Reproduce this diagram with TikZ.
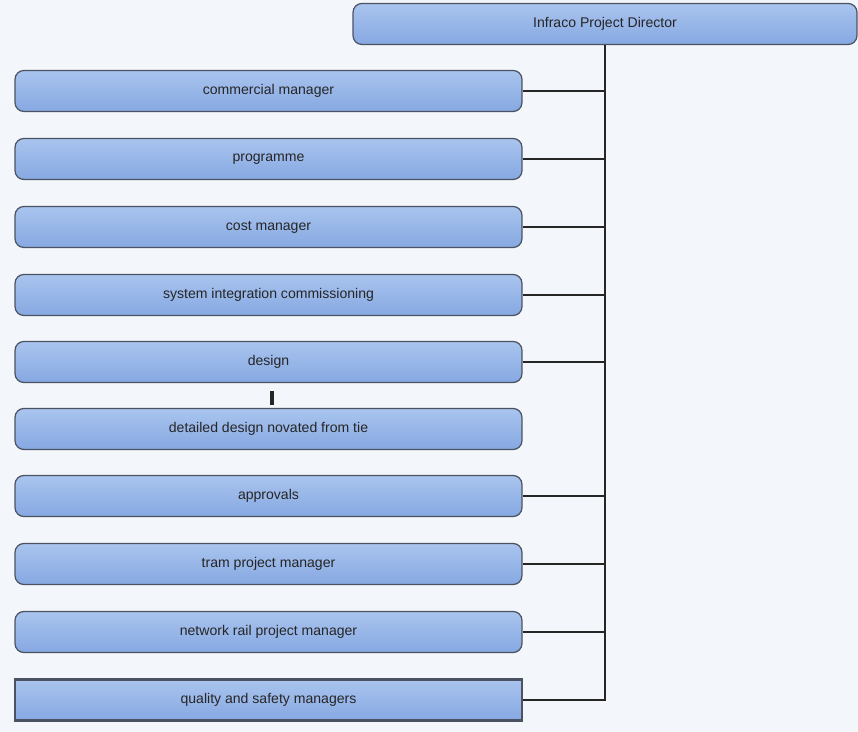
\documentclass[tikz,border=0pt]{standalone}
\usepackage{fontspec}
\setmainfont{Liberation Sans}
\usetikzlibrary{positioning}

\definecolor{boxtop}{HTML}{A9C4EE}
\definecolor{boxbot}{HTML}{86A8E2}
\definecolor{boxline}{HTML}{4B5262}
\definecolor{paper}{HTML}{F3F6FA}

\tikzset{
  unit/.style={rectangle, rounded corners=5pt, draw=boxline, line width=0.7pt,
    top color=boxtop, bottom color=boxbot, minimum width=10.14cm,
    minimum height=0.82cm, font=\fontsize{8}{9.5}\selectfont, text=black!85},
  head/.style={unit, minimum width=10.08cm},
  link/.style={line width=1.5pt, draw=black!85}
}

\begin{document}
\begin{tikzpicture}[x=0.02cm, y=-0.02cm]
	\fill[paper] (0,0) rectangle (858,732);
	\useasboundingbox (0,0) rectangle (858,732);
	% director on top
	\node[head] (dir) at (605,24) {Infraco Project Director};
	% managers down the left
	\node[unit] (comm) at (268.5,91) {commercial manager};
	\node[unit] (prog) at (268.5,159) {programme};
	\node[unit] (cost) at (268.5,227) {cost manager};
	\node[unit] (sys) at (268.5,295) {system integration commissioning};
	\node[unit] (des) at (268.5,362) {design};
	\node[unit] (det) at (268.5,429) {detailed design novated from tie};
	\node[unit] (appr) at (268.5,496) {approvals};
	\node[unit] (tram) at (268.5,564) {tram project manager};
	\node[unit] (rail) at (268.5,632) {network rail project manager};
	\node[unit, rounded corners=0pt, line width=1.2pt] (qual) at (268.5,700) {quality and safety managers};
  	\draw[link] (dir.south) |- (qual.east);
	\draw[link] (comm.east) -- (comm.east -| dir.south);
	\draw[link] (prog.east) -- (prog.east -| dir.south);
	\draw[link] (cost.east) -- (cost.east -| dir.south);
	\draw[link] (sys.east) -- (sys.east -| dir.south);
	\draw[link] (des.east) -- (des.east -| dir.south);
	\draw[link] (appr.east) -- (appr.east -| dir.south);
	\draw[link] (tram.east) -- (tram.east -| dir.south);
	\draw[link] (rail.east) -- (rail.east -| dir.south);
	\draw[link, line width=1.8pt, shorten <=0.16cm, shorten >=0.06cm] ([xshift=0.07cm]des.south) -- ([xshift=0.07cm]det.north);
\end{tikzpicture}
\end{document}
